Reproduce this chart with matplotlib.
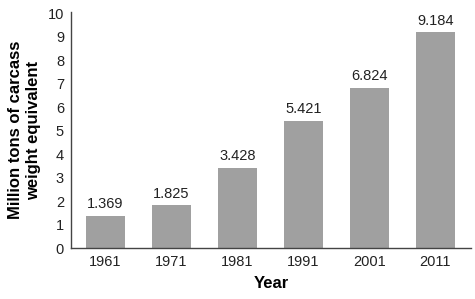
import matplotlib
matplotlib.use('Agg')
import matplotlib.pyplot as plt

plt.rcParams['font.family'] = ['Liberation Sans', 'DejaVu Sans']

years = ['1961', '1971', '1981', '1991', '2001', '2011']
values = [1.369, 1.825, 3.428, 5.421, 6.824, 9.184]
labels = ['1.369', '1.825', '3.428', '5.421', '6.824', '9.184']

fig = plt.figure(figsize=(4.75, 2.99), dpi=100)
ax = fig.add_axes([0.1495, 0.17, 0.842, 0.79])

x = range(len(years))
bars = ax.bar(x, values, width=0.6, color='#a0a0a0')
for b, t in zip(bars, labels):
    ax.text(b.get_x() + b.get_width() / 2, b.get_height() + 0.2, t,
            ha='center', va='bottom', fontsize=10.5, color='#222222')

ax.set_xlim(-0.52, 5.54)
ax.set_ylim(0, 10.05)
ax.set_yticks(range(0, 11))
ax.set_xticks(list(x))
ax.set_xticklabels(years)
ax.tick_params(length=0, labelsize=10.5, colors='#222222')
ax.tick_params(axis='x', pad=5)
ax.tick_params(axis='y', pad=5)

for s in ['top', 'right']:
    ax.spines[s].set_visible(False)
for s in ['left', 'bottom']:
    ax.spines[s].set_color('#444444')
    ax.spines[s].set_linewidth(1.0)

ax.set_xlabel('Year', fontsize=12, fontweight='bold', labelpad=5)
ax.set_ylabel('Million tons of carcass\nweight equivalent', fontsize=12,
              fontweight='bold', labelpad=5, linespacing=1.25)

fig.savefig('out.png', dpi=100)
